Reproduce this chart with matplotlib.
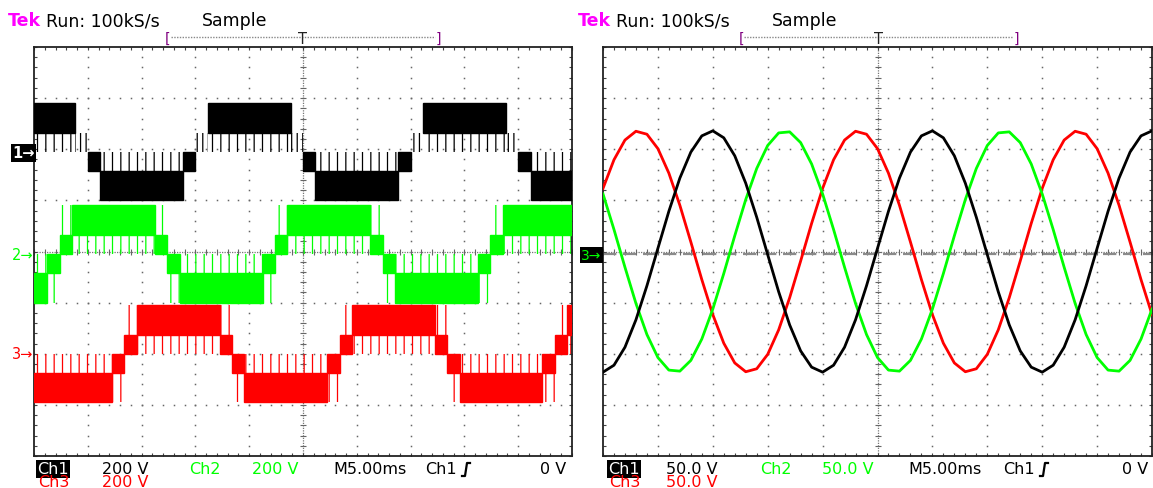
import matplotlib
matplotlib.use('Agg')
import matplotlib.pyplot as plt
from matplotlib.patches import Rectangle
from matplotlib.lines import Line2D

plt.rcParams['font.family'] = ['DejaVu Sans']
plt.rcParams['hatch.linewidth'] = 0.9

W, H = 1153, 489

# ---------------- DATA ----------------
# Left screen: 5-level PWM phase voltages (time ms, volts) read as switching bands
E1, E2 = 75, 190
# main bands: 's' = solid band, 'p' = sparse pulses
ch1_t0 = [-25, -21.15, -20.0, -18.85, -11.15, -10.0, -8.85, -1.15, 0.0, 1.15, 8.85, 10.0, 11.15, 18.85, 20.0, 21.15]
ch1_t1 = [-21.15, -20.0, -18.85, -11.15, -10.0, -8.85, -1.15, 0.0, 1.15, 8.85, 10.0, 11.15, 18.85, 20.0, 21.15, 25]
ch1_lo = [E1, 0, -E1, -E2, -E1, 0, E1, 0, -E1, -E2, -E1, 0, E1, 0, -E1, -E2]
ch1_hi = [E2, E1, 0, -E1, 0, E1, E2, E1, 0, -E1, 0, E1, E2, E1, 0, -E1]
ch1_kind = ['s', 'p', 's', 's', 's', 'p', 's', 'p', 's', 's', 's', 'p', 's', 'p', 's', 's']
# occasional pulses beyond the band
ch1_sp_t0 = [-25, -8.85, 11.15, -18.85, 1.15, 21.15]
ch1_sp_t1 = [-21.15, -1.15, 18.85, -11.15, 8.85, 25]
ch1_sp_lo = [0, 0, 0, -E1, -E1, -E1]
ch1_sp_hi = [E1, E1, E1, 0, 0, 0]

ch2_t0 = [-25, -23.75, -22.6, -21.45, -13.75, -12.6, -11.45, -3.75, -2.6, -1.45, 6.25, 7.4, 8.55, 16.25, 17.4, 18.55]
ch2_t1 = [-23.75, -22.6, -21.45, -13.75, -12.6, -11.45, -3.75, -2.6, -1.45, 6.25, 7.4, 8.55, 16.25, 17.4, 18.55, 25]
ch2_lo = [-E2, -E1, 0, E1, 0, -E1, -E2, -E1, 0, E1, 0, -E1, -E2, -E1, 0, E1]
ch2_hi = [-E1, 0, E1, E2, E1, 0, -E1, 0, E1, E2, E1, 0, -E1, 0, E1, E2]
ch2_kind = ['s'] * 16
ch2_sp_t0 = [-21.45, -1.45, 18.55, -25, -11.45, 8.55, -22.6, -13.75, -2.6, 6.25, 17.4, -23.75, -12.6, -3.75, 7.4, 16.25]
ch2_sp_t1 = [-13.75, 6.25, 25, -23.75, -3.75, 16.25, -21.45, -12.6, -1.45, 7.4, 18.55, -22.6, -11.45, -2.6, 8.55, 17.4]
ch2_sp_lo = [0, 0, 0, -E1, -E1, -E1, E1, E1, E1, E1, E1, -E2, -E2, -E2, -E2, -E2]
ch2_sp_hi = [E1, E1, E1, 0, 0, 0, E2, E2, E2, E2, E2, -E1, -E1, -E1, -E1, -E1]

ch3_t0 = [-25, -17.75, -16.6, -15.45, -7.75, -6.6, -5.45, 2.25, 3.4, 4.55, 12.25, 13.4, 14.55, 22.25, 23.4, 24.55]
ch3_t1 = [-17.75, -16.6, -15.45, -7.75, -6.6, -5.45, 2.25, 3.4, 4.55, 12.25, 13.4, 14.55, 22.25, 23.4, 24.55, 25]
ch3_lo = [-E2, -E1, 0, E1, 0, -E1, -E2, -E1, 0, E1, 0, -E1, -E2, -E1, 0, E1]
ch3_hi = [-E1, 0, E1, E2, E1, 0, -E1, 0, E1, E2, E1, 0, -E1, 0, E1, E2]
ch3_kind = ['s'] * 16
ch3_sp_t0 = [-15.45, 4.55, 24.55, -25, -5.45, 14.55, -16.6, -7.75, 3.4, 12.25, 23.4, -17.75, -6.6, 2.25, 13.4, 22.25]
ch3_sp_t1 = [-7.75, 12.25, 25, -17.75, 2.25, 22.25, -15.45, -6.6, 4.55, 13.4, 24.55, -16.6, -5.45, 3.4, 14.55, 23.4]
ch3_sp_lo = [0, 0, 0, -E1, -E1, -E1, E1, E1, E1, E1, E1, -E2, -E2, -E2, -E2, -E2]
ch3_sp_hi = [E1, E1, E1, 0, 0, 0, E2, E2, E2, E2, E2, -E1, -E1, -E1, -E1, -E1]

left_offsets = [1.95, -0.05, -2.0]      # ground markers, divisions
left_vdiv = 200.0

# Right screen: sinusoidal phase voltages (time ms, volts)
t_right = [-25, -24, -23, -22, -21, -20, -19, -18, -17, -16, -15, -14, -13, -12, -11, -10, -9, -8, -7, -6,
           -5, -4, -3, -2, -1, 0, 1, 2, 3, 4, 5, 6, 7, 8, 9, 10, 11, 12, 13, 14,
           15, 16, 17, 18, 19, 20, 21, 22, 23, 24, 25]
r_ch1 = [-118.0, -111.2, -93.6, -66.8, -33.5, 3.1, 39.4, 71.8, 97.2, 113.1, 118.0, 111.2, 93.6, 66.8, 33.5, -3.1, -39.4, -71.8, -97.2, -113.1,
         -118.0, -111.2, -93.6, -66.8, -33.5, 3.1, 39.4, 71.8, 97.2, 113.1, 118.0, 111.2, 93.6, 66.8, 33.5, -3.1, -39.4, -71.8, -97.2, -113.1,
         -118.0, -111.2, -93.6, -66.8, -33.5, 3.1, 39.4, 71.8, 97.2, 113.1, 118.0]
r_ch2 = [56.3, 21.5, -15.4, -50.8, -81.2, -103.7, -116.0, -117.0, -106.5, -85.6, -56.3, -21.5, 15.4, 50.8, 81.2, 103.7, 116.0, 117.0, 106.5, 85.6,
         56.3, 21.5, -15.4, -50.8, -81.2, -103.7, -116.0, -117.0, -106.5, -85.6, -56.3, -21.5, 15.4, 50.8, 81.2, 103.7, 116.0, 117.0, 106.5, 85.6,
         56.3, 21.5, -15.4, -50.8, -81.2, -103.7, -116.0, -117.0, -106.5, -85.6, -56.3]
r_ch3 = [61.7, 89.7, 109.0, 117.6, 114.7, 100.6, 76.6, 45.2, 9.3, -27.5, -61.7, -89.7, -109.0, -117.6, -114.7, -100.6, -76.6, -45.2, -9.3, 27.5,
         61.7, 89.7, 109.0, 117.6, 114.7, 100.6, 76.6, 45.2, 9.3, -27.5, -61.7, -89.7, -109.0, -117.6, -114.7, -100.6, -76.6, -45.2, -9.3, 27.5,
         61.7, 89.7, 109.0, 117.6, 114.7, 100.6, 76.6, 45.2, 9.3, -27.5, -61.7]
right_vdiv = 50.0

BLACK, GREEN, RED, MAG = '#000000', '#00ff00', '#ff0000', '#ff00ff'

# ---------------- FIGURE ----------------
fig = plt.figure(figsize=(W / 100, H / 100), dpi=100)
fig.patch.set_facecolor('white')


def fx(px):
    return px / W


def fy(py):
    return 1 - py / H


def make_screen(x0, x1, y0=48, y1=457):
    ax = fig.add_axes([fx(x0), fy(y1), (x1 - x0) / W, (y1 - y0) / H])
    ax.set_xlim(-25, 25)
    ax.set_ylim(-4, 4)
    ax.set_facecolor('white')
    for s in ax.spines.values():
        s.set_color('#222222')
        s.set_linewidth(1.3)
    ax.set_xticks([-25 + 5 * i for i in range(11)])
    ax.set_xticks([-25 + i for i in range(51)], minor=True)
    ax.set_yticks([-4 + i for i in range(9)])
    ax.set_yticks([-4 + 0.2 * i for i in range(41)], minor=True)
    ax.tick_params(which='both', direction='in', top=True, right=True, length=2.3, width=0.8,
                   color='#444444', labelbottom=False, labelleft=False)
    for xv in [-20, -15, -10, -5, 5, 10, 15, 20]:
        ax.plot([xv] * 41, [-4 + 0.2 * i for i in range(41)], ls='none', marker='s', ms=1.1,
                color='#666666', mew=0, zorder=1)
    for yv in [-3, -2, -1, 1, 2, 3]:
        ax.plot([-25 + i for i in range(51)], [yv] * 51, ls='none', marker='s', ms=1.1,
                color='#666666', mew=0, zorder=1)
    ax.axhline(0, color='#777777', lw=0.9, ls=(0, (1, 1)), zorder=1)
    ax.axvline(0, color='#777777', lw=0.9, ls=(0, (1, 1)), zorder=1)
    ax.plot([-25 + i for i in range(51)], [0] * 51, ls='none', marker='|', ms=5, mew=0.8,
            color='#666666', zorder=1)
    ax.plot([0] * 41, [-4 + 0.2 * i for i in range(41)], ls='none', marker='_', ms=5, mew=0.8,
            color='#666666', zorder=1)
    return ax


def draw_bands(ax, t0, t1, lo, hi, kind, color, off, vdiv):
    for a, b, l, h, k in zip(t0, t1, lo, hi, kind):
        yl, yh = off + l / vdiv, off + h / vdiv
        if k == 's':
            ax.add_patch(Rectangle((a, yl), b - a, yh - yl, facecolor=color, edgecolor=color,
                                   lw=1.0, zorder=3))
        else:
            ax.add_patch(Rectangle((a, yl), b - a, yh - yl, facecolor='none', edgecolor=color,
                                   hatch='|||', lw=0, zorder=3))


def draw_pulses(ax, t0, t1, lo, hi, color, off, vdiv, hatch='||'):
    for a, b, l, h in zip(t0, t1, lo, hi):
        yl, yh = off + l / vdiv, off + h / vdiv
        ax.add_patch(Rectangle((a, yl), b - a, yh - yl, facecolor='none', edgecolor=color,
                               hatch=hatch, lw=0, zorder=2.5))


axL = make_screen(34, 572)
axR = make_screen(603, 1152)

draw_pulses(axL, ch1_sp_t0, ch1_sp_t1, ch1_sp_lo, ch1_sp_hi, BLACK, left_offsets[0], left_vdiv)
draw_pulses(axL, ch2_sp_t0, ch2_sp_t1, ch2_sp_lo, ch2_sp_hi, GREEN, left_offsets[1], left_vdiv)
draw_pulses(axL, ch3_sp_t0, ch3_sp_t1, ch3_sp_lo, ch3_sp_hi, RED, left_offsets[2], left_vdiv)
draw_bands(axL, ch1_t0, ch1_t1, ch1_lo, ch1_hi, ch1_kind, BLACK, left_offsets[0], left_vdiv)
draw_bands(axL, ch2_t0, ch2_t1, ch2_lo, ch2_hi, ch2_kind, GREEN, left_offsets[1], left_vdiv)
draw_bands(axL, ch3_t0, ch3_t1, ch3_lo, ch3_hi, ch3_kind, RED, left_offsets[2], left_vdiv)

axR.axhline(-0.05, color='#8a8a8a', lw=1.6, ls=(0, (6, 3)), zorder=2)
axR.plot(t_right, [v / right_vdiv for v in r_ch3], color=RED, lw=2.0, zorder=3)
axR.plot(t_right, [v / right_vdiv for v in r_ch2], color=GREEN, lw=2.0, zorder=3)
axR.plot(t_right, [v / right_vdiv for v in r_ch1], color=BLACK, lw=2.0, zorder=4)

# ---------------- TEXT ----------------
FS = 11.5


def txt(px, py, s, color='black', weight='normal', ha='left', fs=FS, **kw):
    fig.text(fx(px), fy(py), s, color=color, fontsize=fs, ha=ha, va='center', fontweight=weight, **kw)


for base in (0, 570):
    txt(8 + base, 21, 'Tek', color=MAG, weight='bold', fs=12.5)
    txt(46 + base, 21, 'Run: 100kS/s', fs=12.5)
    txt(202 + base, 21, 'Sample', fs=12.5)

for (xa, xb, xt) in ((168, 438, 303), (741, 1016, 878)):
    fig.add_artist(Line2D([fx(xa + 3), fx(xb - 3)], [fy(38), fy(38)], color='#888888', lw=1.0,
                          ls=(0, (1, 1))))
    fig.text(fx(xa), fy(39), '[', color='#800080', fontsize=10, ha='center', va='center')
    fig.text(fx(xb), fy(39), ']', color='#800080', fontsize=10, ha='center', va='center')
    fig.text(fx(xt), fy(39), 'T', color='#222222', fontsize=10.5, ha='center', va='center')

rows = [
    (37, 'Ch1', 102, '200 V', 189, 252, '200 V', 333, 425, 466, 540),
    (608, 'Ch1', 666, '50.0 V', 760, 822, '50.0 V', 908, 1003, 1044, 1122),
]
for (xc1, c1, xv1, v1, xc2, xv2, v2, xm, xch, xtr, x0v) in rows:
    fig.text(fx(xc1), fy(470), c1, color='white', fontsize=FS, ha='left', va='center',
             bbox=dict(boxstyle='square,pad=0.08', fc='black', ec='none'))
    txt(xv1, 470, v1)
    txt(xc2, 470, 'Ch2', color=GREEN)
    txt(xv2, 470, v2, color=GREEN)
    txt(xm, 470, 'M5.00ms')
    txt(xch, 470, 'Ch1')
    fig.add_artist(Line2D([fx(xtr - 4), fx(xtr - 1), fx(xtr + 1), fx(xtr + 4)],
                          [fy(477), fy(477), fy(464), fy(464)], color='black', lw=1.6))
    txt(x0v, 470, '0 V')
    txt(xc1 + 1, 483, 'Ch3', color=RED)
    txt(xv1, 483, v1, color=RED)

fig.text(fx(12), fy(154), '1\u2192', color='white', fontsize=10.5, ha='left', va='center',
         fontweight='bold', bbox=dict(boxstyle='square,pad=0.1', fc='black', ec='none'))
fig.text(fx(12), fy(255), '2\u2192', color=GREEN, fontsize=10.5, ha='left', va='center')
fig.text(fx(12), fy(355), '3\u2192', color=RED, fontsize=10.5, ha='left', va='center')
fig.text(fx(581), fy(256), '3\u2192', color=GREEN, fontsize=10, ha='left', va='center',
         bbox=dict(boxstyle='square,pad=0.1', fc='black', ec='none'))

fig.savefig('out.png', dpi=100, facecolor='white')
